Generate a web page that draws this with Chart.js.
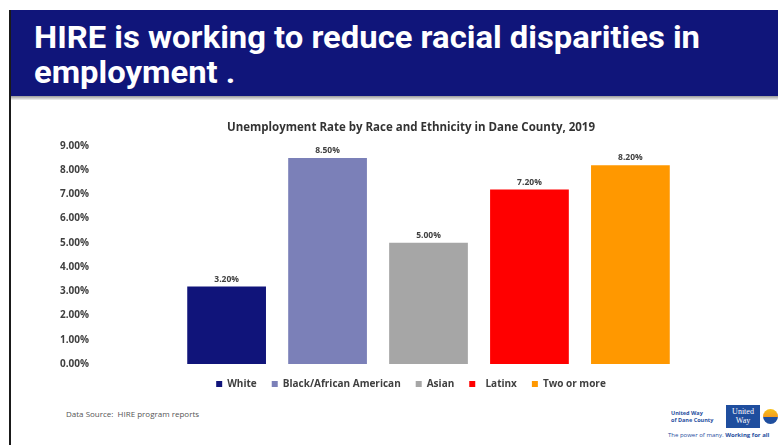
<!DOCTYPE html>
<html>
<head>
<meta charset="utf-8">
<script src="https://cdn.jsdelivr.net/npm/chart.js@4.4.1/dist/chart.umd.min.js"></script>
<style>
  html, body { margin: 0; padding: 0; width: 778px; height: 445px; overflow: hidden; background: #fff; }
  #leftline { position: absolute; left: 9px; top: 10px; width: 2px; height: 435px; background: #1a1a1a; }
  #banner { position: absolute; left: 10px; top: 10px; width: 768px; height: 86px; background: #10157a; }
  #shadow { position: absolute; left: 11px; top: 96px; width: 767px; height: 4px; background: linear-gradient(#9a9a9a, #f2f2f2); }
  .hl { position: absolute; left: 34px; color: #fff; font-family: Roboto, "Liberation Sans", sans-serif; font-weight: 700; font-size: 31px; white-space: nowrap; transform-origin: 0 0; line-height: 1; }
  #wrap { position: absolute; left: 40px; top: 109px; width: 735px; height: 290px; }
  #src { position: absolute; left: 66px; top: 408px; font-family: "Open Sans", sans-serif; font-size: 8px; color: #555; }
  #uw1 { position: absolute; left: 671px; top: 410px; font-family: "Open Sans", sans-serif; font-weight: 700; font-size: 5.5px; line-height: 6.5px; color: #1f4e9e; }
  #uwbox { position: absolute; left: 726px; top: 405px; width: 34px; height: 23px; background: #1f4e9e; color: #fff; font-family: "Liberation Serif", serif; font-size: 8px; line-height: 9px; text-align: center; padding-top: 2px; box-sizing: border-box; }
  #sun { position: absolute; left: 761px; top: 405px; width: 17px; height: 23px; background: #fff; overflow: hidden; }
  #sun div { position: absolute; left: 2px; top: 4px; width: 15px; height: 15px; border-radius: 50%; background: linear-gradient(#f7c21b 0%, #f39a1e 55%, #1f4e9e 56%); }
  #tag { position: absolute; left: 668px; top: 431px; font-family: "Open Sans", sans-serif; font-size: 6px; color: #1f4e9e; white-space: nowrap; }
</style>
</head>
<body>
<div id="banner"></div>
<div id="shadow"></div>
<div id="leftline"></div>
<div class="hl" id="h1" style="top:22px">HIRE is working to reduce racial disparities in</div>
<div class="hl" id="h2" style="top:57px">employment .</div>
<div id="wrap"><canvas id="c"></canvas></div>
<div id="src">Data Source:&nbsp; HIRE program reports</div>
<div id="uw1">United Way<br>of Dane County</div>
<div id="uwbox">United<br>Way</div>
<div id="sun"><div></div></div>
<div id="tag">The power of many. <b>Working for all</b></div>
<script>
// scale the headline to the width seen in the reference
(function(){
  const h1 = document.getElementById('h1');
  const h2 = document.getElementById('h2');
  const w = h1.getBoundingClientRect().width;
  const s = 666 / w;
  h1.style.transform = 'scaleX(' + s + ')';
  h2.style.transform = 'scaleX(' + s + ')';
})();

const chartTitle = 'Unemployment Rate by Race and Ethnicity in Dane County, 2019';
const groups = ['White', 'Black/African American', 'Asian', '  Latinx', 'Two or more'];
const rates = [3.2, 8.5, 5.0, 7.2, 8.2];
const colors = ['#10147a', '#7b80b8', '#a6a6a6', '#ff0000', '#ff9800'];
const yTicks = [0, 1, 2, 3, 4, 5, 6, 7, 8, 9];

const fmt = v => v.toFixed(2) + '%';

const valueLabels = {
  id: 'valueLabels',
  afterDatasetsDraw(chart) {
    const ctx = chart.ctx;
    ctx.save();
    ctx.font = 'bold 8.5px "Open Sans", sans-serif';
    ctx.fillStyle = '#404040';
    ctx.textAlign = 'center';
    ctx.textBaseline = 'bottom';
    chart.data.datasets.forEach((ds, i) => {
      const meta = chart.getDatasetMeta(i);
      meta.data.forEach((bar, j) => {
        ctx.fillText(fmt(ds.data[j]), bar.x, bar.y - 3);
      });
    });
    ctx.restore();
  }
};

new Chart(document.getElementById('c'), {
  type: 'bar',
  data: {
    labels: [''],
    datasets: groups.map((g, i) => ({
      label: g,
      data: [rates[i]],
      backgroundColor: colors[i],
      borderWidth: 0,
      categoryPercentage: 0.75,
      barPercentage: 0.78
    }))
  },
  options: {
    responsive: true,
    maintainAspectRatio: false,
    animation: false,
    layout: { padding: { left: 17, right: 10, top: 0, bottom: 0 } },
    plugins: {
      title: {
        display: true,
        text: chartTitle,
        color: '#333',
        font: { family: '"Open Sans", sans-serif', size: 11.5, weight: 'bold' },
        padding: { top: 12, bottom: 11 }
      },
      legend: {
        position: 'bottom',
        labels: {
          boxWidth: 6, boxHeight: 6, padding: 15,
          color: '#404040',
          font: { family: '"Open Sans", sans-serif', size: 10, weight: 'bold' }
        }
      },
      tooltip: { enabled: false }
    },
    scales: {
      x: { display: false },
      y: {
        min: 0, max: 9,
        afterBuildTicks: s => { s.ticks = yTicks.map(v => ({ value: v })); },
        grid: { display: false, drawTicks: false },
        border: { display: false },
        ticks: {
          padding: 3,
          color: '#404040',
          font: { family: '"Open Sans", sans-serif', size: 10, weight: 'bold' },
          callback: v => fmt(v)
        }
      }
    }
  },
  plugins: [valueLabels]
});
</script>
</body>
</html>
